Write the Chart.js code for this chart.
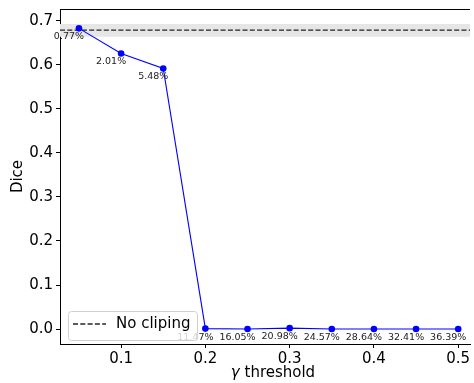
<!DOCTYPE html>
<html>
<head>
<meta charset="utf-8">
<script src="https://cdn.jsdelivr.net/npm/chart.js@4"></script>
<style>
  html, body { margin: 0; padding: 0; background: #fff; overflow: hidden; }
  #wrap { width: 474px; height: 383px; }
</style>
</head>
<body>
<div id="wrap"><canvas id="chart" width="474" height="383"></canvas></div>
<script>
// data
const gammas = [0.05, 0.1, 0.15, 0.2, 0.25, 0.3, 0.35, 0.4, 0.45, 0.5];
const dice = [0.683, 0.626, 0.592, 0.001, 0.0, 0.002, 0.0, 0.0, 0.0, 0.0];
const clipped = ['0.77%', '2.01%', '5.48%', '11.47%', '16.05%', '20.98%', '24.57%', '28.64%', '32.41%', '36.39%'];
const noClipDice = 0.679;
const noClipBand = [0.664, 0.693];
const xTicks = [0.1, 0.2, 0.3, 0.4, 0.5];
const yTicks = [0.0, 0.1, 0.2, 0.3, 0.4, 0.5, 0.6, 0.7];
const xRange = [0.0275, 0.514];
const yRange = [-0.034, 0.727];

const FONT = 'DejaVu Sans';

// percent labels under each point, axis titles, top spine, legend box
const extras = {
  id: 'extras',
  afterDatasetsDraw(chart) {
    const ctx = chart.ctx;
    const area = chart.chartArea;
    const meta = chart.getDatasetMeta(3);
    ctx.save();
    ctx.font = '9.5px "' + FONT + '"';
    ctx.fillStyle = '#222';
    ctx.textAlign = 'center';
    ctx.textBaseline = 'middle';
    meta.data.forEach((pt, i) => {
      ctx.fillText(clipped[i], pt.x - 10, pt.y + 8.5);
    });

    // top spine
    ctx.strokeStyle = '#000';
    ctx.lineWidth = 1;
    ctx.beginPath();
    ctx.moveTo(area.left, area.top + 0.5);
    ctx.lineTo(area.right, area.top + 0.5);
    ctx.stroke();

    // legend
    const lx = 68, ly = 311, lw = 129, lh = 29;
    ctx.beginPath();
    ctx.roundRect(lx + 0.5, ly + 0.5, lw, lh, 3);
    ctx.fillStyle = 'rgba(255,255,255,0.8)';
    ctx.fill();
    ctx.strokeStyle = '#d0d0d0';
    ctx.stroke();
    ctx.beginPath();
    ctx.setLineDash([5, 2.3]);
    ctx.strokeStyle = 'rgba(0,0,0,0.85)';
    ctx.lineWidth = 1.3;
    ctx.moveTo(73, ly + 13);
    ctx.lineTo(106, ly + 13);
    ctx.stroke();
    ctx.setLineDash([]);
    ctx.fillStyle = '#000';
    ctx.font = '15px "' + FONT + '"';
    ctx.textAlign = 'left';
    ctx.fillText(chart.data.datasets[2].label, 116, ly + 13);

    // axis titles
    const rest = ' threshold';
    ctx.font = 'italic 15px "' + FONT + '"';
    const gw = ctx.measureText('γ').width;
    ctx.font = '15px "' + FONT + '"';
    const rw = ctx.measureText(rest).width;
    const tx = 273 - (gw + rw) / 2;
    ctx.font = 'italic 15px "' + FONT + '"';
    ctx.fillText('γ', tx, 373);
    ctx.font = '15px "' + FONT + '"';
    ctx.fillText(rest, tx + gw, 373);

    ctx.translate(18, (area.top + area.bottom) / 2);
    ctx.rotate(-Math.PI / 2);
    ctx.textAlign = 'center';
    ctx.fillText('Dice', 0, 0);
    ctx.restore();
  }
};

const axisCommon = {
  type: 'linear',
  grid: { drawOnChartArea: false, drawTicks: true, tickLength: 4, color: '#000', tickWidth: 1 },
  border: { display: true, color: '#000', width: 1 },
  title: { display: false }
};

new Chart(document.getElementById('chart'), {
  type: 'line',
  data: {
    datasets: [
      {
        label: 'band-hi',
        data: [{ x: xRange[0], y: noClipBand[1] }, { x: xRange[1], y: noClipBand[1] }],
        borderWidth: 0, pointRadius: 0, fill: '+1',
        backgroundColor: '#e6e6e6', borderColor: 'rgba(0,0,0,0)', order: 3
      },
      {
        label: 'band-lo',
        data: [{ x: xRange[0], y: noClipBand[0] }, { x: xRange[1], y: noClipBand[0] }],
        borderWidth: 0, pointRadius: 0, fill: false,
        borderColor: 'rgba(0,0,0,0)', order: 3
      },
      {
        label: 'No cliping',
        data: [{ x: xRange[0], y: noClipDice }, { x: xRange[1], y: noClipDice }],
        borderColor: 'rgba(0,0,0,0.85)', borderWidth: 1.3, borderDash: [5, 2.3],
        pointRadius: 0, fill: false, order: 2
      },
      {
        label: 'Dice',
        data: gammas.map((g, i) => ({ x: g, y: dice[i] })),
        borderColor: '#0000ff', backgroundColor: '#0000ff', borderWidth: 1.1,
        pointRadius: 3.3, pointBorderWidth: 0, fill: false, tension: 0, order: 0
      }
    ]
  },
  options: {
    responsive: false,
    animation: false,
    layout: { padding: { left: 0, right: 0, top: 9, bottom: 0 } },
    plugins: { legend: { display: false }, tooltip: { enabled: false } },
    scales: {
      x: {
        ...axisCommon,
        position: 'bottom',
        min: xRange[0], max: xRange[1],
        afterBuildTicks: s => { s.ticks = xTicks.map(v => ({ value: v })); },
        afterFit: s => { s.height = 39; s.paddingRight = 0; s.paddingLeft = 0; },
        ticks: {
          font: { family: FONT, size: 15 }, color: '#000', padding: 2,
          maxRotation: 0, autoSkip: false,
          callback: v => v.toFixed(1)
        }
      },
      y: {
        ...axisCommon,
        position: 'left',
        min: yRange[0], max: yRange[1],
        afterBuildTicks: s => { s.ticks = yTicks.map(v => ({ value: v })); },
        afterFit: s => { s.width = 60; s.paddingTop = 0; s.paddingBottom = 0; },
        ticks: {
          font: { family: FONT, size: 15 }, color: '#000', padding: 3,
          autoSkip: false,
          callback: v => v.toFixed(1)
        }
      }
    }
  },
  plugins: [extras]
});
</script>
</body>
</html>
